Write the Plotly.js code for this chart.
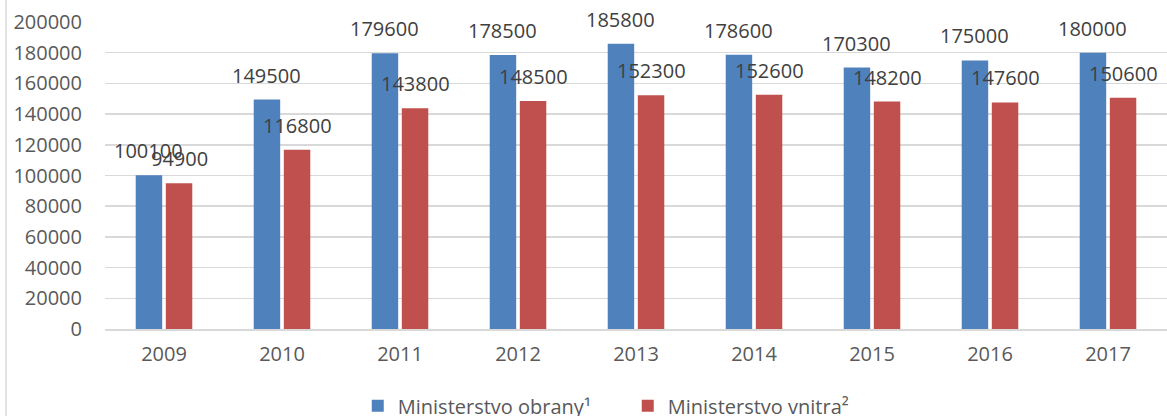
<!DOCTYPE html>
<html><head><meta charset="utf-8">
<script src="https://cdn.plot.ly/plotly-3.0.1.min.js"></script>
<style>html,body{margin:0;padding:0;background:#fff}#c{width:1167px;height:416px}</style>
</head><body><div id="c"></div>
<script>
const years = ['2009','2010','2011','2012','2013','2014','2015','2016','2017'];
const obrany = [100100,149500,179600,178500,185800,178600,170300,175000,180000];
const vnitra = [94900,116800,143800,148500,152300,152600,148200,147600,150600];
const seriesNames = ['Ministerstvo obrany¹','Ministerstvo vnitra²'];
const font = 'Open Sans, Liberation Sans, sans-serif';
const W = 1167, H = 416, ML = 105, MR = 0, MT = 22, MB = 87;
const bargap = 0.49;
const catPx = (W - ML - MR) / years.length;
const off = (1 - bargap) / 4 * catPx;
const mk = (y, name, color) => ({
  type:'bar', x: years, y: y, name: name,
  marker:{color: color}, hoverinfo:'none'
});
const data = [mk(obrany, seriesNames[0], '#4f81bd'), mk(vnitra, seriesNames[1], '#c0504d')];
const annotations = [];
[[obrany, -off], [vnitra, off]].forEach(([vals, xs]) => {
  vals.forEach((v, i) => annotations.push({
    x: years[i], y: v, xref:'x', yref:'y', text: String(v), showarrow:false,
    xanchor:'center', yanchor:'bottom', xshift: xs, yshift: 9,
    font:{family:font, size:20, color:'#404040'}
  }));
});
const layout = {
  width:W, height:H,
  margin:{l:ML, r:MR, t:MT, b:MB, autoexpand:false},
  paper_bgcolor:'#fff', plot_bgcolor:'#fff',
  barmode:'group', bargap:bargap, bargroupgap:0.12,
  font:{family:font, color:'#595959', size:20},
  xaxis:{showgrid:false, showline:true, linecolor:'#d9d9d9', linewidth:1.5, ticks:'',
    tickfont:{size:20, color:'#595959'}, ticklabelstandoff:6, automargin:false},
  yaxis:{range:[0,200000], dtick:20000, showgrid:true, gridcolor:'#d9d9d9', gridwidth:1.5,
    zeroline:false, tickformat:'d', ticks:'', tickfont:{size:20, color:'#595959'}, ticklabelstandoff:22, automargin:false},
  showlegend:true,
  legend:{orientation:'h', x:0.238, xanchor:'left', y:-0.25, yanchor:'middle',
    font:{size:20, color:'#595959'}, itemwidth:30, entrywidth:225, entrywidthmode:'pixels'},
  annotations: annotations,
  shapes:[{type:'line', xref:'paper', yref:'paper', x0:-0.0932, x1:-0.0932, y0:-0.3, y1:1.08,
    line:{color:'#d9d9d9', width:1.5}}]
};
Plotly.newPlot('c', data, layout, {staticPlot:true});
</script></body></html>
